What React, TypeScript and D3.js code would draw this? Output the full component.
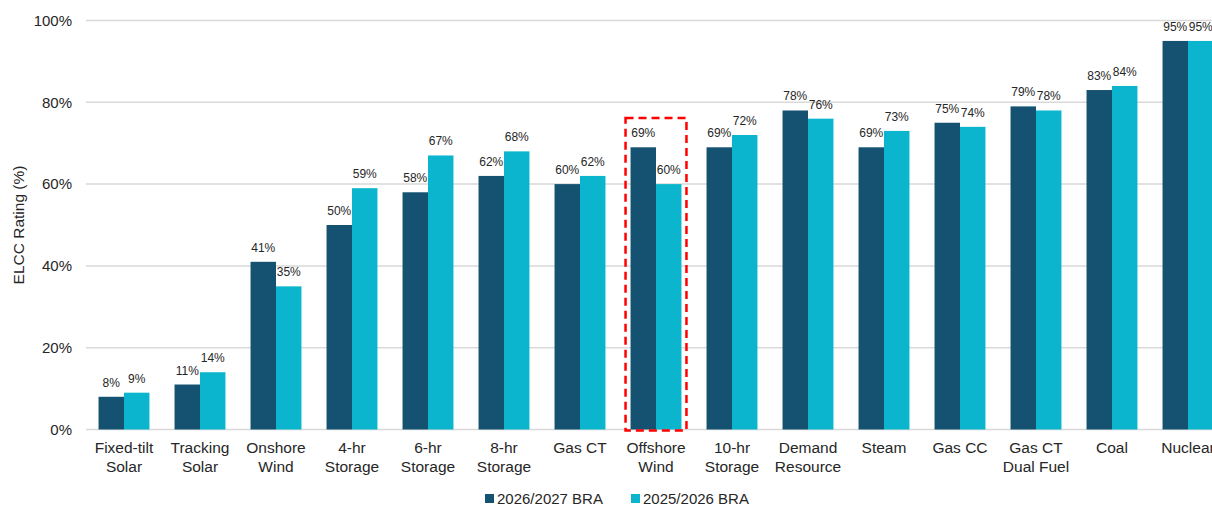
import React from "react";
import * as d3 from "d3";

const categories: string[][] = [
  ["Fixed-tilt", "Solar"],
  ["Tracking", "Solar"],
  ["Onshore", "Wind"],
  ["4-hr", "Storage"],
  ["6-hr", "Storage"],
  ["8-hr", "Storage"],
  ["Gas CT"],
  ["Offshore", "Wind"],
  ["10-hr", "Storage"],
  ["Demand", "Resource"],
  ["Steam"],
  ["Gas CC"],
  ["Gas CT", "Dual Fuel"],
  ["Coal"],
  ["Nuclear"],
];
const series2026 = [8, 11, 41, 50, 58, 62, 60, 69, 69, 78, 69, 75, 79, 83, 95];
const series2025 = [9, 14, 35, 59, 67, 68, 62, 60, 72, 76, 73, 74, 78, 84, 95];
const seriesNames = ["2026/2027 BRA", "2025/2026 BRA"];
const yTicks = [0, 20, 40, 60, 80, 100];
const highlighted = 7;

const W = 1212;
const H = 506;
const FONT = "'Liberation Sans', Arial, sans-serif";
const DARK = "#155272";
const LIGHT = "#0bb5cd";

export default function App() {
  const left = 86;
  const step = 76;
  const x = d3
    .scaleBand<number>()
    .domain(categories.map((_, i) => i))
    .range([left, left + step * categories.length])
    .paddingInner(0.33)
    .paddingOuter(0.165);
  const y = d3.scaleLinear().domain([0, 100]).range([429.5, 20.5]);
  const bw = x.bandwidth() / 2;

  return (
    <svg
      width={W}
      height={H}
      style={{ position: "absolute", left: 0, top: 0, background: "#fff" }}
      fontFamily={FONT}
    >
      {yTicks.map((t) => (
        <g key={t}>
          <line x1={left} x2={W} y1={y(t)} y2={y(t)} stroke="#d9d9d9" strokeWidth={1.5} />
          <text x={72} y={y(t)} dy="0.35em" textAnchor="end" fontSize={15} fill="#262626">
            {t}%
          </text>
        </g>
      ))}
      <text
        transform={`translate(19,${(y(0) + y(100)) / 2}) rotate(-90)`}
        textAnchor="middle"
        dy="0.35em"
        fontSize={15.5}
        fill="#262626"
      >
        ELCC Rating (%)
      </text>
      {categories.map((c, i) => {
        const x0 = x(i)!;
        return (
          <g key={i}>
            <rect x={x0} y={y(series2026[i])} width={bw} height={y(0) - y(series2026[i])} fill={DARK} />
            <rect x={x0 + bw} y={y(series2025[i])} width={bw} height={y(0) - y(series2025[i])} fill={LIGHT} />
            <text x={x0 + bw / 2} y={y(series2026[i]) - 10} textAnchor="middle" fontSize={12} fill="#262626">
              {series2026[i]}%
            </text>
            <text x={x0 + bw * 1.5} y={y(series2025[i]) - 10} textAnchor="middle" fontSize={12} fill="#262626">
              {series2025[i]}%
            </text>
            {c.map((line, j) => (
              <text
                key={j}
                x={x0 + bw}
                y={453 + j * 19}
                textAnchor="middle"
                fontSize={15.5}
                fill="#262626"
              >
                {line}
              </text>
            ))}
          </g>
        );
      })}
      <rect
        x={x(highlighted)! - 5}
        y={118}
        width={x.bandwidth() + 10}
        height={y(0) - 118 + 1}
        fill="none"
        stroke="#ff0000"
        strokeWidth={2.5}
        strokeDasharray="8,5"
      />
      {seriesNames.map((s, i) => {
        const lx = 485 + i * 146;
        return (
          <g key={s}>
            <rect x={lx} y={494} width={9} height={9} fill={i === 0 ? DARK : LIGHT} />
            <text x={lx + 12} y={499} dy="0.35em" fontSize={15} fill="#262626">
              {s}
            </text>
          </g>
        );
      })}
    </svg>
  );
}
